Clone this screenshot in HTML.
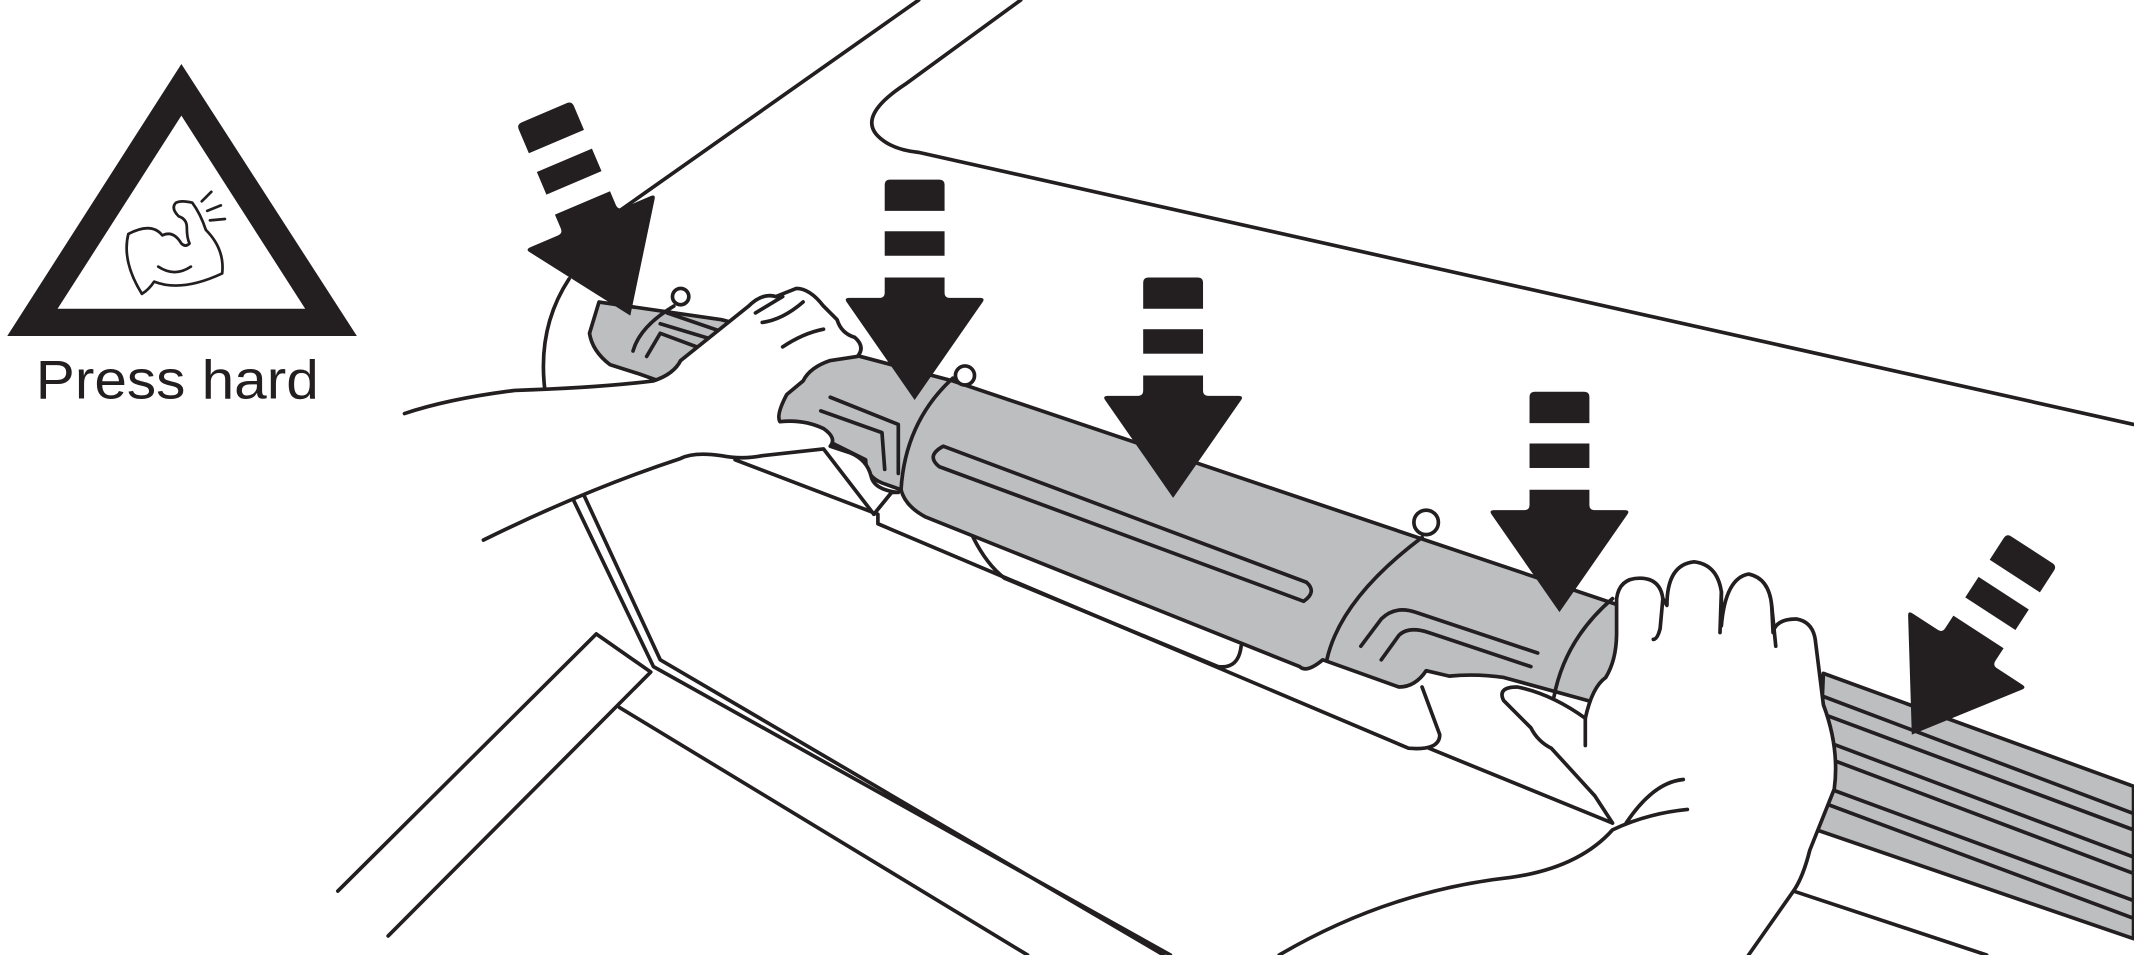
<!DOCTYPE html>
<html><head><meta charset="utf-8"><style>
html,body{margin:0;padding:0;background:#fff;width:2134px;height:955px;overflow:hidden}
svg{display:block}
</style></head><body>
<svg width="2134" height="955" viewBox="0 0 1568 702" xmlns="http://www.w3.org/2000/svg">
<defs>
<g id="arr">
<path d="M-22,-158 q0,-4 4,-4 h36 q4,0 4,4 v19 h-44z" fill="#231f20"/>
<rect x="-22" y="-124" width="44" height="18" fill="#231f20"/>
<path d="M-22,-90 h44 v11 q0,4 4,4 h22 q4,0 2,3 l-50,72 l-50,-72 q-2,-3 2,-3 h22 q4,0 4,-4z" fill="#231f20"/>
</g>
</defs>
<g fill="none" stroke="#231f20" stroke-width="2.7" stroke-linejoin="round" stroke-linecap="round">
<!-- warning -->
<path d="M133,47 L5,247 L262,247 Z M133,85 L42,227 L224,227 Z" fill="#231f20" fill-rule="evenodd" stroke="none"/>
<path d="M94,172 q-5,20 10,44 q5,-3 9,-9 q20,8 50,-6 q2,-18 -12,-32 q-4,-12 -10,-20 q-8,-2 -12,0 q-4,4 2,10 q6,2 6,8 q0,8 2,12 q-3,3 -6,0 q-6,-10 -14,-6 q-8,-10 -25,-1z" stroke-width="2"/>
<path d="M148,148 l7,-7 M152,155 l10,-4 M154,162 l11,-1 M116,196 q12,8 24,0" stroke-width="2"/>
<!-- top panels -->
<path d="M455,155 L675,0"/>
<path d="M750,0 L665,62 Q630,85 645,100 Q655,110 675,112 L1568,312"/>
<!-- left bump -->
<path d="M418,205 Q395,240 400,285"/>
<!-- base lines -->
<path d="M420,365 L480,490 L860,702 M428,362 L485,485 L855,702"/>
<path d="M438,466 L248,655 M438,466 L478,494 L285,688 M455,520 L755,702"/>
<path d="M540,338 L645,378 L645,385 L1035,550 Q1058,552 1058,540 L1045,505"/>
<path d="M1050,550 L1185,605"/>
<path d="M1318,655 L1460,702"/>
<path d="M642,378 L655,362 M715,395 Q725,415 738,425 M738,425 L895,490 Q910,492 912,475"/>
<!-- right gray rails -->
<path d="M1340,495 L1568,578 L1568,690 L1335,610 Z" fill="#bcbec0"/>
<path d="M1340,512 L1568,598 M1340,525 L1568,610 M1342,545 L1568,630 M1345,558 L1568,642 M1345,580 L1568,662 M1345,592 L1568,675"/>
<!-- gray cartridge -->
<path d="M440,222 L530,235 L700,280 L1190,445 L1185,520 L1105,498 Q1085,495 1065,497 L1048,493 Q1040,505 1028,505 L972,485 Q960,495 955,490 L680,380 Q665,372 662,360 L648,355 Q636,350 636,338 L610,325 L470,275 L448,268 Q435,258 433,245 Z" fill="#bcbec0"/>
<path d="M700,278 Q665,310 662,360 M1045,395 Q985,440 975,485 M1185,440 Q1150,470 1142,512"/>
<path d="M693,328 L960,428 Q968,435 958,442 L690,343 Q680,335 693,328 Z"/>
<path d="M1000,475 L1015,455 Q1025,445 1040,450 L1130,480 M1015,485 L1028,467 Q1035,460 1050,465 L1125,490"/>
<path d="M465,258 Q470,240 495,225 M475,262 L485,245 L520,258 M485,238 L525,250 M490,230 L528,243"/>
<circle cx="709" cy="276" r="7" fill="#fff"/>
<circle cx="1048" cy="384" r="9" fill="#fff"/>
<circle cx="500" cy="218" r="6" fill="#fff"/>
<!-- left hand -->
<path d="M297,304 Q330,293 378,287 Q440,285 480,280 Q495,275 500,265 L550,225 Q560,215 570,218 L585,212 Q595,212 605,225 L615,235 Q618,245 628,248 Q636,255 630,262 L610,265 Q595,270 590,280 L578,290 Q570,305 573,310 Q590,308 605,315 Q615,322 610,328 L625,333 Q637,338 640,350 Q642,360 660,362 L655,362 L642,378 L605,330 L560,335 Q545,338 530,335 Q510,332 500,337 Q430,360 355,397" fill="#fff"/>
<path d="M555,230 L575,218 M560,237 Q575,235 590,222 M575,255 Q590,245 605,242 M610,292 L660,312 L660,348 M603,302 L648,318 L650,345"/>
<!-- right hand -->
<path d="M940,702 Q1020,655 1110,645 Q1160,638 1185,610 Q1210,598 1240,595 M1195,605 Q1215,575 1237,573 M1185,605 L1172,585 L1140,550 Q1130,545 1125,535 L1105,515 Q1100,505 1115,505 Q1140,510 1165,528 Q1170,505 1180,498 Q1188,485 1188,465 L1188,440 Q1190,425 1205,425 Q1220,425 1222,440 L1225,445 Q1225,415 1245,413 Q1262,415 1265,435 L1265,460 Q1268,425 1285,422 Q1300,425 1302,445 L1303,465 Q1305,455 1320,455 Q1332,457 1334,470 L1340,518 Q1352,550 1348,580 Q1340,600 1330,625 Q1325,645 1318,655 L1285,702" fill="#fff"/>
<path d="M1222,440 L1220,462 Q1218,470 1215,470 M1265,435 L1264,465 M1302,445 L1305,475 M1165,528 L1165,548"/>
</g>
<use href="#arr" transform="translate(672,294)"/>
<use href="#arr" transform="translate(862,366)"/>
<use href="#arr" transform="translate(1146,450)"/>
<use href="#arr" transform="translate(463,232) rotate(-23)"/>
<use href="#arr" transform="translate(1405,540) rotate(33)"/>
<text x="130" y="293" font-family="Liberation Sans, sans-serif" font-size="40" text-anchor="middle" fill="#231f20" textLength="208" lengthAdjust="spacingAndGlyphs">Press hard</text>
</svg>
</body></html>
